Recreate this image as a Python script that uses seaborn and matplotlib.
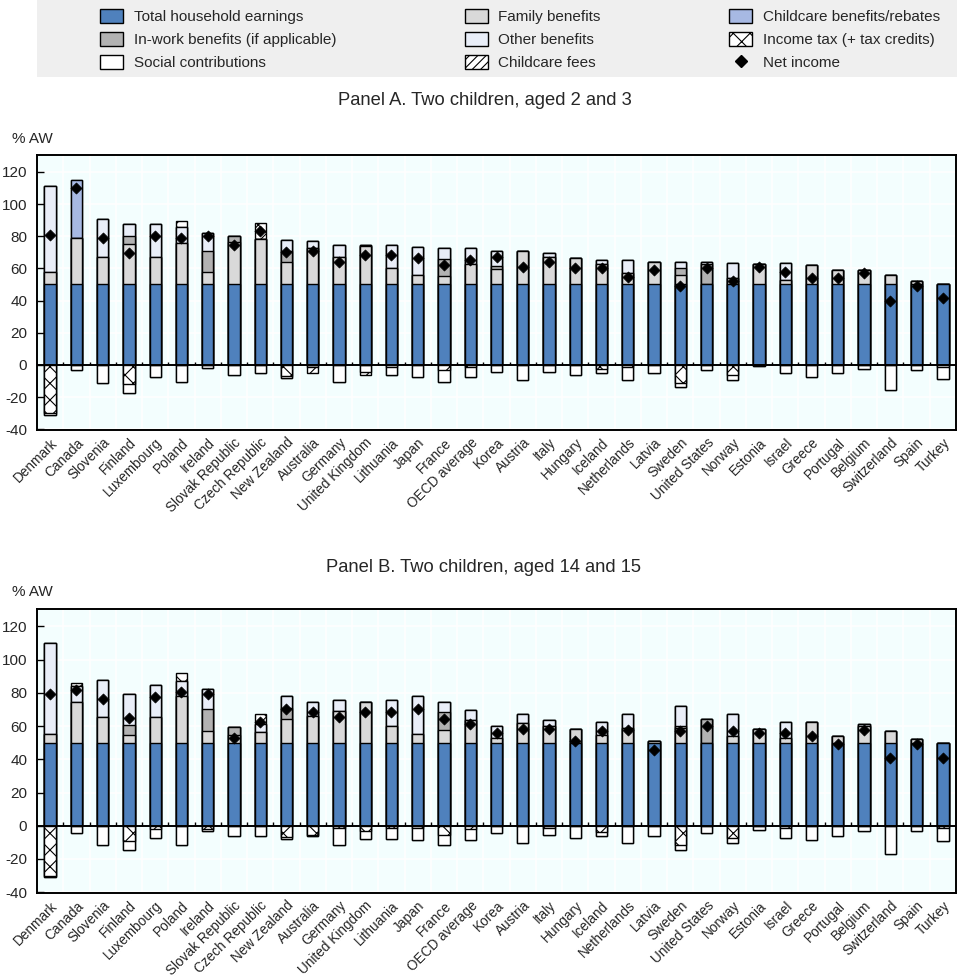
import numpy as np
import pandas as pd
import matplotlib
matplotlib.use("Agg")
import matplotlib.pyplot as plt
from matplotlib.patches import Patch, Rectangle
from matplotlib.lines import Line2D
import seaborn as sns

# ---------------- data ----------------
countries = ["Denmark", "Canada", "Slovenia", "Finland", "Luxembourg", "Poland", "Ireland",
             "Slovak Republic", "Czech Republic", "New Zealand", "Australia", "Germany",
             "United Kingdom", "Lithuania", "Japan", "France", "OECD average", "Korea",
             "Austria", "Italy", "Hungary", "Iceland", "Netherlands", "Latvia", "Sweden",
             "United States", "Norway", "Estonia", "Israel", "Greece", "Portugal",
             "Belgium", "Switzerland", "Spain", "Turkey"]

earnings_a = [50] * 35
family_a = [7.5, 29, 17, 25, 17, 26, 8, 26.5, 28.4, 14, 22.4, 17, 24, 10, 6, 5, 13, 9.5,
            21, 17, 16.2, 13, 7, 14, 6, 0, 4, 13, 2.7, 12, 9, 9, 6, 2.3, 0]
inwork_a = [0, 0, 0, 5, 0, 0, 13, 3.5, 0, 7, 0, 0, 0, 0, 0, 11, 0, 2,
            0, 0, 0, 0, 0, 0, 4, 13, 0, 0, 0, 0, 0, 0, 0, 0, 0]
other_a = [54, 0, 23.4, 7.5, 20.3, 10, 11, 0, 0, 6.8, 4.4, 7.5, 0.5, 14.5, 17.5, 6.4, 9.4, 9.3,
           0, 2.3, 0, 2.2, 8.2, 0, 4, 1, 9.1, 0, 10.4, 0, 0, 0, 0, 0, 0]
ccben_a = [0, 35.8, 0, 0, 0, 0, 0, 0, 0, 0, 0, 0, 0, 0, 0, 0, 0, 0,
           0, 0, 0, 0, 0, 0, 0, 0, 0, 0, 0, 0, 0, 0, 0, 0, 0]
tax_a = [-30, 0, 0, -12, 0, 3.4, 0, 0, 10, -7, 0, 0, 0, -1.5, 0, -3.5, -1.5, 0,
         0, 0, 0, -2.5, -1.5, 0, -11, 0, -6.2, 0, 0, 0, 0, 0, 0, 0, -1.5]
ssc_a = [-1, -3.5, -11, -5.2, -7.7, -10.8, -2, -6.6, -5.2, -1.3, -1.2, -10.8, -4.6, -5.1,
         -7.7, -7.3, -6.2, -4.6, -9.7, -4.6, -6.6, -2.7, -8.2, -5.2, -2.9, -3.5, -3.5, -1,
         -5.2, -7.7, -5.2, -2.5, -15.9, -3.5, -7.2]
fees_a = [0, 0, 0, 0, 0, 0, 0, 0, 0, 0, -4, 0, -2, 0, 0, 0, 0, 0,
          0, 0, 0, 0, 0, 0, 0, 0, 0, 0, 0, 0, 0, 0, 0, 0, 0]
net_a = [81, 110, 79, 69.5, 80, 79, 80, 74.7, 83, 70.3, 71, 64, 68.3, 68.3, 66.2, 62, 65.2,
         66.8, 61, 64.1, 60, 60, 54.8, 59, 49.2, 60, 52.3, 61, 58, 53.8, 53.8, 56.9, 40,
         49.2, 41.4]

earnings_b = [50] * 35
family_b = [5.2, 24.3, 15.2, 4.8, 15.2, 27.9, 6.8, 4.8, 6.5, 14.2, 15.8, 18.8, 24.5, 9.8,
            5.2, 7.8, 13.8, 2.8, 11.8, 10.2, 8.2, 4.8, 8.8, 1, 8.8, 0, 3.8, 8.2, 2.8, 12.2,
            4.2, 10, 7.2, 2.2, 0]
inwork_b = [0, 0, 0, 6, 0, 0, 13.4, 4.4, 0, 6.6, 0, 0, 0, 0, 0, 10.6, 0, 0,
            0, 0, 0, 0, 0, 0, 1.4, 14.2, 0, 0, 0, 0, 0, 0, 0, 0, 0]
other_b = [54.8, 9.6, 22.7, 18.7, 19.3, 9.4, 12.3, 0, 4.5, 7.5, 8.7, 6.7, 0, 15.7, 23.1,
           6.1, 5.6, 7.4, 5.4, 3.2, 0, 7.4, 8.4, 0, 12, 0, 13.4, 0, 9.4, 0, 0, 1.2, 0, 0, 0]
ccben_b = [0] * 35
tax_b = [-30, 2, 0, -9, -1.8, 4.6, -2, 0, 6, -7, -5.5, -1.5, -3.4, -1.5, -1.5, -5.4, -2, 0,
         0, -1.5, 0, -4, 0, 0, -11.4, 0, -7.4, 0, -1.5, 0, 0, 0, 0, 0, -1.5]
ssc_b = [-1, -4.4, -11.8, -5.4, -5.6, -11.6, -1.2, -6.4, -6.4, -0.8, -0.9, -10.3, -4.4,
         -6.3, -6.9, -6.4, -6.4, -4.4, -10.4, -3.9, -7.4, -2.4, -10.4, -6.4, -3, -4.4, -3,
         -2.4, -5.9, -8.4, -6.4, -3.4, -16.8, -3.4, -7.9]
fees_b = [0] * 35
net_b = [79.5, 81.5, 76.5, 64.8, 77.3, 80.5, 79.5, 52.8, 62.2, 70.2, 68.2, 65.2, 68.2, 68.2,
         70.2, 64.2, 61.2, 55.8, 58.4, 58.4, 50.8, 56.8, 57.8, 45.8, 57.2, 60.2, 57.2, 55.8,
         55.8, 53.8, 49.2, 57.8, 40.7, 49.2, 41]

legend_labels = ["Total household earnings", "In-work benefits (if applicable)",
                 "Social contributions", "Family benefits", "Other benefits",
                 "Childcare fees", "Childcare benefits/rebates",
                 "Income tax (+ tax credits)", "Net income"]

# ---------------- style ----------------
C_EARN = "#4F81BD"
C_INWORK = "#B2B2B2"
C_FAMILY = "#D9D9D9"
C_OTHER = "#E9EEF8"
C_CCBEN = "#A7B9E3"
C_BG = "#F3FEFE"

sns.set_style("white")
plt.rcParams["font.family"] = ["Liberation Sans", "DejaVu Sans"]
plt.rcParams["hatch.color"] = "black"
plt.rcParams["hatch.linewidth"] = 0.8

W, H = 960, 977
fig = plt.figure(figsize=(W / 100, H / 100), dpi=100)
fig.patch.set_facecolor("white")

BAR_W = 0.43
EDGE_LW = 1.0


def bars(ax, values, color, hatch=None):
    df = pd.DataFrame({"country": countries, "value": values})
    sns.barplot(data=df, x="country", y="value", color=color, saturation=1,
                width=BAR_W, errorbar=None, edgecolor="black", linewidth=EDGE_LW,
                hatch=hatch, ax=ax, zorder=2)


def panel(ax, earn, fam, inw, oth, ccb, tax, ssc, fees, net):
    earn, fam, inw, oth, ccb, tax, ssc, fees = map(np.asarray, (earn, fam, inw, oth, ccb, tax, ssc, fees))
    taxpos = np.clip(tax, 0, None)
    taxneg = np.clip(tax, None, 0)
    c1 = earn
    c2 = c1 + fam
    c3 = c2 + inw
    c4 = c3 + oth
    c5 = c4 + ccb
    c6 = c5 + taxpos
    # positive stack, drawn from outermost to innermost
    bars(ax, c6, "white", "xx")
    bars(ax, c5, C_CCBEN)
    bars(ax, c4, C_OTHER)
    bars(ax, c3, C_INWORK)
    bars(ax, c2, C_FAMILY)
    bars(ax, c1, C_EARN)
    # negative stack
    n1 = taxneg
    n2 = n1 + ssc
    n3 = n2 + fees
    bars(ax, n3, "white", "////")
    bars(ax, n2, "white")
    bars(ax, n1, "white", "xx")

    n = len(countries)
    xs = np.arange(n)
    sns.scatterplot(x=xs, y=net, marker="D", color="black", s=32, edgecolor="black",
                    linewidth=0.5, ax=ax, zorder=6, legend=False)

    ax.set_facecolor(C_BG)
    ax.set_xlim(-0.5, n - 0.5)
    ax.set_ylim(-40.5, 130.5)
    ax.set_yticks(np.arange(-40, 121, 20))
    ax.set_yticklabels([str(v) for v in range(-40, 121, 20)], fontsize=11)
    ax.set_xticks(xs)
    ax.set_xticklabels(countries, rotation=45, ha="right", va="top",
                       rotation_mode="anchor", fontsize=9.8)
    ax.set_xticks(xs[:-1] + 0.5, minor=True)
    ax.tick_params(axis="x", which="both", length=0, pad=4)
    ax.tick_params(axis="y", which="major", direction="in", length=5, width=1,
                   color="black", pad=7, left=True, right=False)
    ax.set_axisbelow(True)
    ax.grid(False)
    ax.grid(True, which="major", axis="y", color="white", lw=1.2)
    ax.grid(True, which="minor", axis="x", color="white", lw=1.2)
    ax.axhline(0, color="black", lw=1.4, zorder=4)
    ax.vlines(xs[:-1] + 0.5, 0, 2.0, color="black", lw=1.0, zorder=4)
    ax.set_xlabel("")
    ax.set_ylabel("")
    for s in ax.spines.values():
        s.set_visible(True)
        s.set_color("black")
        s.set_linewidth(1.4)


def fx(px):
    return px / W


def fy(py):
    return 1 - py / H


axA = fig.add_axes([fx(37), fy(430), fx(956 - 37), (430 - 155) / H])
axB = fig.add_axes([fx(37), fy(893), fx(956 - 37), (893 - 609) / H])

panel(axA, earnings_a, family_a, inwork_a, other_a, ccben_a, tax_a, ssc_a, fees_a, net_a)
panel(axB, earnings_b, family_b, inwork_b, other_b, ccben_b, tax_b, ssc_b, fees_b, net_b)

fig.text(fx(485), fy(100), "Panel A. Two children, aged 2 and 3", ha="center", va="center", fontsize=13.2)
fig.text(fx(484), fy(567), "Panel B. Two children, aged 14 and 15", ha="center", va="center", fontsize=13.2)
fig.text(fx(12), fy(139), "% AW", ha="left", va="center", fontsize=11)
fig.text(fx(12), fy(592), "% AW", ha="left", va="center", fontsize=11)

# legend background
fig.patches.append(Rectangle((fx(37), fy(77)), fx(957 - 37), 77 / H,
                             transform=fig.transFigure, facecolor="#EFEFEF",
                             edgecolor="none", zorder=0))

handles = [
    Patch(facecolor=C_EARN, edgecolor="black"),
    Patch(facecolor=C_INWORK, edgecolor="black"),
    Patch(facecolor="white", edgecolor="black"),
    Patch(facecolor=C_FAMILY, edgecolor="black"),
    Patch(facecolor=C_OTHER, edgecolor="black"),
    Patch(facecolor="white", edgecolor="black", hatch="////"),
    Patch(facecolor=C_CCBEN, edgecolor="black"),
    Patch(facecolor="white", edgecolor="black", hatch="xx"),
    Line2D([], [], marker="D", color="black", linestyle="none", markersize=6),
]
fig.legend(handles, legend_labels, ncol=3, loc="upper left",
           bbox_to_anchor=(fx(100), fy(9) - 0.07, fx(940 - 100), 0.07),
           mode="expand", frameon=False, fontsize=11, handlelength=1.5,
           handleheight=1.0, handletextpad=0.7, labelspacing=0.52, borderaxespad=0,
           borderpad=0)

fig.savefig("out.png", dpi=100, facecolor="white")
